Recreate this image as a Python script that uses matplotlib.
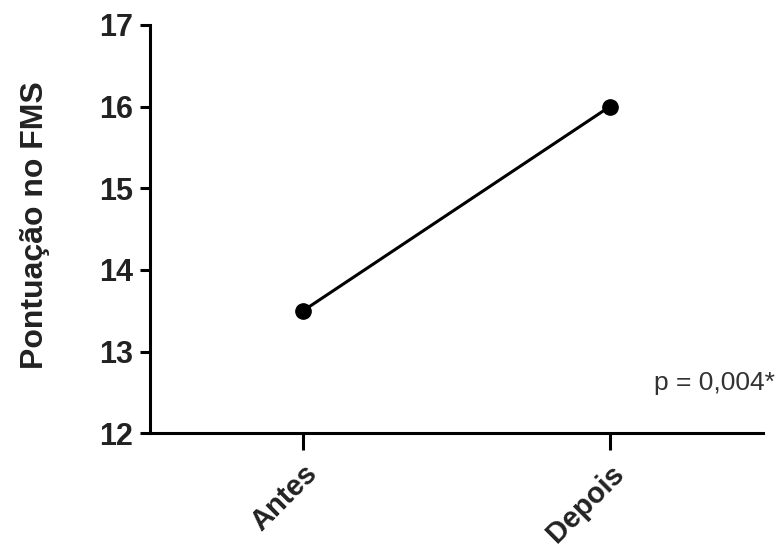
import matplotlib
matplotlib.use("Agg")
import matplotlib.pyplot as plt

categories = ["Antes", "Depois"]
values = [13.5, 16.0]
yticks = [12, 13, 14, 15, 16, 17]
p_text = "p = 0,004*"
ylabel = "Pontuação no FMS"

plt.rcParams['font.family'] = ['Liberation Sans', 'DejaVu Sans']

fig = plt.figure(figsize=(7.77, 5.49), dpi=100)
ax = fig.add_axes([0.193, 0.211, 0.789, 0.7435])

x = list(range(len(categories)))
ax.plot(x, values, color='black', lw=2.2, marker='o', markersize=11, zorder=3, clip_on=False)

ax.set_xlim(-0.5, 1.5)
ax.set_ylim(12, 17)
ax.set_yticks(yticks)
ax.set_yticklabels([str(t) for t in yticks], fontsize=22, fontweight='bold', color='#222222')
ax.set_xticks(x)
ax.set_xticklabels(categories, fontsize=21, fontweight='bold', rotation=45, ha='right',
                   rotation_mode='anchor', color='#222222')

for s in ['top', 'right']:
    ax.spines[s].set_visible(False)
for s in ['left', 'bottom']:
    ax.spines[s].set_linewidth(2.2)
ax.tick_params(axis='y', length=7, width=2.2, pad=5)
ax.tick_params(axis='x', length=12, width=2.2, pad=7)

ax.set_ylabel(ylabel, fontsize=23, fontweight='bold', color='#222222')
ax.yaxis.set_label_coords(-0.163, 0.51)

fig.text(0.997, 0.302, p_text, fontsize=19, ha='right', va='center', color='#333333')

fig.savefig("out.png", dpi=100)
